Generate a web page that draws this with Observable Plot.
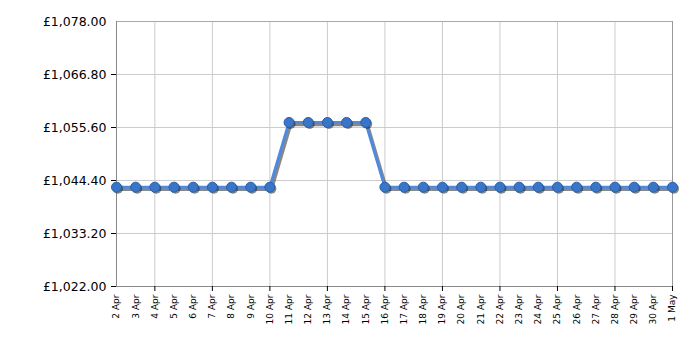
<!DOCTYPE html>
<html><head><meta charset="utf-8">
<script src="https://cdn.jsdelivr.net/npm/d3@7"></script>
<script src="https://cdn.jsdelivr.net/npm/@observablehq/plot@0.6"></script>
<style>body{margin:0;background:#fff}</style>
</head><body><div id="chart"></div>
<script>
const dayLabels = ["2 Apr","3 Apr","4 Apr","5 Apr","6 Apr","7 Apr","8 Apr","9 Apr","10 Apr","11 Apr","12 Apr","13 Apr","14 Apr","15 Apr","16 Apr","17 Apr","18 Apr","19 Apr","20 Apr","21 Apr","22 Apr","23 Apr","24 Apr","25 Apr","26 Apr","27 Apr","28 Apr","29 Apr","30 Apr","1 May"];
const prices = [1042.99,1042.99,1042.99,1042.99,1042.99,1042.99,1042.99,1042.99,1042.99,1056.66,1056.66,1056.66,1056.66,1056.66,1042.99,1042.99,1042.99,1042.99,1042.99,1042.99,1042.99,1042.99,1042.99,1042.99,1042.99,1042.99,1042.99,1042.99,1042.99,1042.99];
const yTicks = [1022, 1033.2, 1044.4, 1055.6, 1066.8, 1078];
const gridDayLabels = ["4 Apr","7 Apr","10 Apr","13 Apr","16 Apr","19 Apr","22 Apr","25 Apr","28 Apr","1 May"];

const parse = s => d3.utcParse("%d %b %Y")(s + " 2024");
const fmtDay = d3.utcFormat("%-d %b");
const data = dayLabels.map((d, i) => ({date: parse(d), price: prices[i]}));
const allDates = data.map(d => d.date);
const gridDates = gridDayLabels.map(parse);
const x0 = allDates[0], x1 = allDates[allDates.length - 1];
const yMin = yTicks[0], yMax = yTicks[yTicks.length - 1];
const fmtY = v => "£" + d3.format(",.2f")(v);

const chart = Plot.plot({
  width: 700, height: 350,
  marginLeft: 116, marginRight: 28, marginTop: 21, marginBottom: 64,
  style: {fontFamily: "DejaVu Sans, Verdana, sans-serif", color: "#000", background: "#fff"},
  x: {type: "utc", domain: [x0, x1], label: null},
  y: {domain: [yMin, yMax], label: null},
  marks: [
    Plot.ruleY(yTicks.slice(1, -1), {stroke: "#cccccc"}),
    Plot.ruleX(gridDates.slice(0, -1), {stroke: "#cccccc"}),
    Plot.ruleY([yMax], {stroke: "#aaaaaa"}),
    Plot.ruleX([x1], {stroke: "#999999"}),
    Plot.ruleX([x0], {stroke: "#888888"}),
    Plot.ruleY([yMin], {stroke: "#888888"}),
    Plot.line(data, {x: "date", y: "price", stroke: "#555", strokeOpacity: 0.7, strokeWidth: 3.5, dx: 1.5, dy: 2}),
    Plot.line(data, {x: "date", y: "price", stroke: "#4f8ade", strokeWidth: 3}),
    Plot.dot(data, {x: "date", y: "price", r: 5, fill: "#222", fillOpacity: 0.55, dx: 1.5, dy: 1.5}),
    Plot.dot(data, {x: "date", y: "price", r: 5, fill: "#3a76c8", stroke: "#2b5ea8", strokeWidth: 1}),
    Plot.axisY(yTicks.slice(0, -1), {tickSize: 5, tickPadding: 5, tickFormat: fmtY, fontSize: 12.5, stroke: "#000", label: null}),
    Plot.axisY([yMax], {tickSize: 0, tickPadding: 10, tickFormat: fmtY, fontSize: 12.5, label: null}),
    Plot.axisX(gridDates, {tickSize: 5, tickFormat: () => "", stroke: "#000", label: null}),
    Plot.axisX(allDates, {tickSize: 0, tickPadding: 8, tickRotate: -90, tickFormat: fmtDay, fontSize: 9, label: null})
  ]
});
document.getElementById("chart").append(chart);
</script>
</body></html>
